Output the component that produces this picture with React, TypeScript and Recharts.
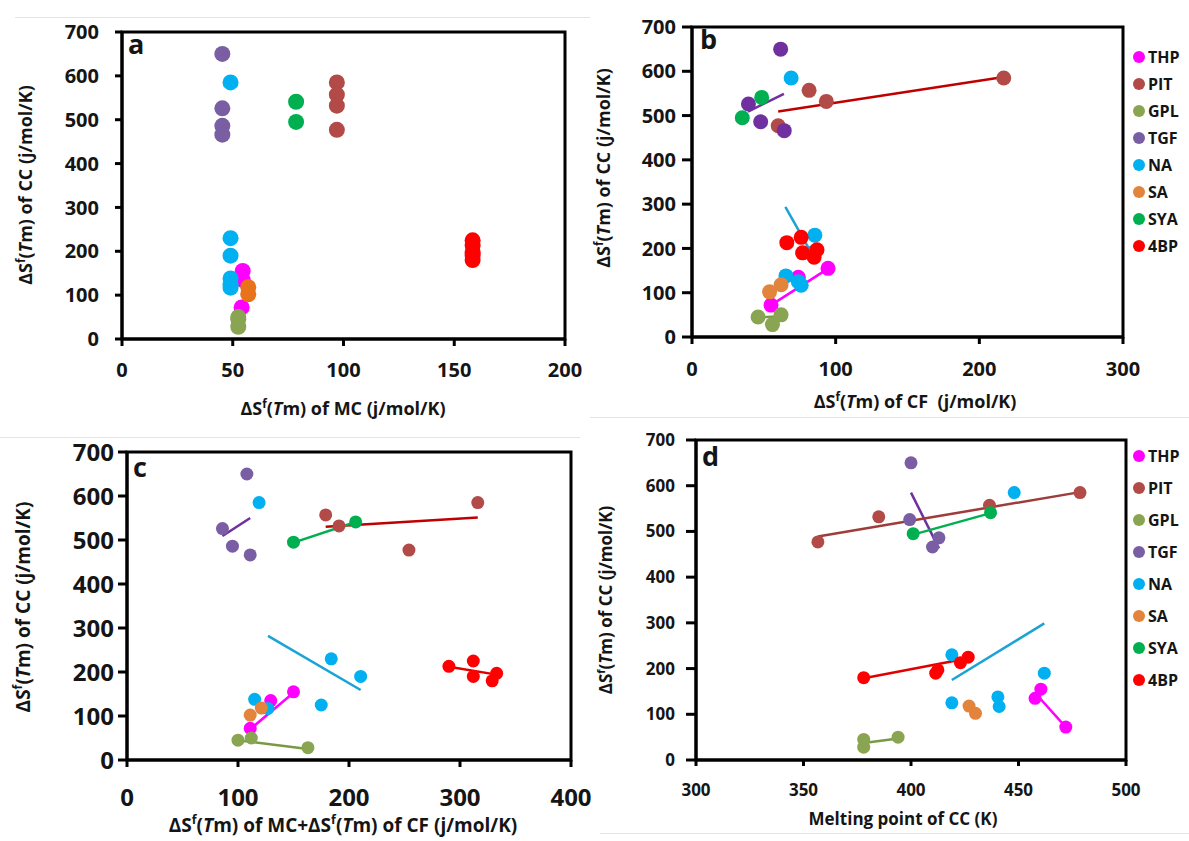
import React from "react";
import { Legend, ReferenceArea, ReferenceLine, Scatter, ScatterChart, XAxis, YAxis } from "recharts";

const FONT = "'Open Sans', Lato, 'Noto Sans', sans-serif";
const INK = "#151515";

const compounds = ["THP", "PIT", "GPL", "TGF", "NA", "SA", "SYA", "4BP"];

// ΔSf(Tm) of CC - the y value of each point, same in all four panels
const thpCC = [155, 135, 72];
const pitCC = [585, 557, 532, 477];
const gplCC = [50, 45, 28];
const tgfCC = [650, 526, 486, 466];
const naCC = [585, 230, 190, 138, 125, 117];
const saCC = [118, 102];
const syaCC = [541, 495];
const bpCC = [225, 213, 197, 190, 180];

// panel a: ΔSf(Tm) of MC
const thpMC = [54.5, 54.5, 54];
const pitMC = [97, 97, 97, 97];
const gplMC = [52.5, 52.5, 52.5];
const tgfMC = [45.3, 45.3, 45.3, 45.3];
const naMC = [49, 49, 49, 49, 49, 49];
const saMC = [57, 57];
const syaMC = [78.6, 78.6];
const bpMC = [158.3, 158.3, 158.3, 158.3, 158.3];

// panel b: ΔSf(Tm) of CF
const thpCF = [94.7, 74, 55];
const pitCF = [217, 81.5, 93.5, 60];
const gplCF = [62, 46, 56];
const tgfCF = [61.7, 39.3, 47.8, 64.2];
const naCF = [69, 85.5, 84, 65.4, 74, 76];
const saCF = [62, 54];
const syaCF = [48.5, 35];
const bpCF = [76, 66, 87, 77, 85];

// panel c: ΔSf(Tm) of MC + ΔSf(Tm) of CF
const thpSum = [150, 129.5, 111];
const pitSum = [316, 179, 191, 254];
const gplSum = [112, 100, 163];
const tgfSum = [108, 86, 95, 111];
const naSum = [119, 184, 210.5, 115, 175, 127];
const saSum = [121, 111];
const syaSum = [206, 150];
const bpSum = [312, 290, 333, 312, 329];

// panel d: melting point of CC (K)
const thpTm = [460.4, 457.7, 472];
const pitTm = [478.6, 436.5, 385, 356.7];
const gplTm = [394, 378, 378];
const tgfTm = [400, 399.4, 413, 410];
const naTm = [448, 419, 462, 440.4, 419, 441];
const saTm = [427, 430];
const syaTm = [437, 401];
const bpTm = [426.6, 423, 412.5, 411.5, 378];

// fitted lines drawn in the panels: [compound, x1, y1, x2, y2]
type Trend = [string, number, number, number, number];
const cfTrends: Trend[] = [
  ["TGF", 39, 509, 64, 549],
  ["PIT", 60, 509, 217, 587],
  ["NA", 65, 294, 86, 173],
  ["THP", 55, 72, 95, 155],
  ["GPL", 46, 44, 62, 47],
];
const sumTrends: Trend[] = [
  ["TGF", 86, 509, 111, 550],
  ["NA", 127, 282, 210.5, 159],
  ["PIT", 179, 530, 316, 551],
  ["SYA", 150, 494, 206, 541],
  ["4BP", 290, 212, 333, 194],
  ["THP", 111, 70, 150, 153],
  ["GPL", 100, 45, 163, 25],
];
const tmTrends: Trend[] = [
  ["TGF", 400, 585, 413, 463],
  ["PIT", 356.7, 489, 478.6, 586],
  ["SYA", 401, 493, 437, 540],
  ["NA", 419, 175, 462, 299],
  ["4BP", 378, 179, 426, 222],
  ["GPL", 378, 37, 394, 47],
  ["THP", 459, 140, 472, 72],
  ["SA", 427, 117, 430, 101],
];

const yTicks = [0, 100, 200, 300, 400, 500, 600, 700];

const colors: Record<string, string> = {
  THP: "#ff00ff",
  PIT: "#b24a48",
  GPL: "#8aa552",
  TGF: "#7a5ea3",
  NA: "#00b0f0",
  SA: "#e2843c",
  SYA: "#00b050",
  "4BP": "#ff0000",
};
const trendColors: Record<string, string> = {
  THP: "#ff00ff",
  PIT: "#c00000",
  GPL: "#7a9a40",
  TGF: "#7030a0",
  NA: "#1aa3d6",
  SA: "#e2843c",
  SYA: "#00b050",
  "4BP": "#e00000",
};

const ccValues = [thpCC, pitCC, gplCC, tgfCC, naCC, saCC, syaCC, bpCC];

type Seg = [string, "n" | "sup" | "i"];
const dSf = (rest: string): Seg[] => [
  ["ΔS", "n"],
  ["f", "sup"],
  ["(", "n"],
  ["T", "i"],
  ["m)" + rest, "n"],
];

function AxisTitle(props: any) {
  const { px, py, rotate, size, segs } = props;
  const shift = size * 0.4;
  let prevSup = false;
  return (
    <text
      x={px}
      y={py}
      textAnchor="middle"
      transform={rotate ? `rotate(-90, ${px}, ${py})` : undefined}
      fontFamily={FONT}
      fontWeight={700}
      fontSize={size}
      fill={INK}
      style={{ whiteSpace: "pre" }}
    >
      {segs.map(([t, k]: Seg, i: number) => {
        const sup = k === "sup";
        const dy = sup && !prevSup ? -shift : !sup && prevSup ? shift : 0;
        prevSup = sup;
        return (
          <tspan key={i} dy={dy || undefined} fontSize={sup ? size * 0.65 : undefined} fontStyle={k === "i" ? "italic" : undefined}>
            {t}
          </tspan>
        );
      })}
    </text>
  );
}

function PanelLetter(props: any) {
  const { viewBox, letter, dx, dy } = props;
  if (!viewBox) return null;
  return (
    <text x={viewBox.x + dx} y={viewBox.y + dy} fontFamily={FONT} fontWeight={700} fontSize={27} fill={INK}>
      {letter}
    </text>
  );
}

function LegendList(props: any) {
  const { payload, row } = props;
  const items = compounds.map((n) => (payload || []).find((p: any) => p.value === n)).filter(Boolean);
  return (
    <div style={{ fontFamily: FONT, fontWeight: 700, fontSize: 16, color: INK }}>
      {items.map((p: any) => (
        <div key={p.value} style={{ height: row, display: "flex", alignItems: "center" }}>
          <span style={{ width: 12, height: 12, borderRadius: 6, background: colors[p.value], marginRight: 3, display: "inline-block" }} />
          {p.value}
        </div>
      ))}
    </div>
  );
}

type PanelCfg = {
  letter: string;
  left: number;
  top: number;
  width: number;
  height: number;
  margin: { top: number; right: number; bottom: number; left: number };
  yAxisW: number;
  xAxisH: number;
  xDomain: [number, number];
  xTicks: number[];
  xValues: number[][];
  trends: Trend[];
  tickFont: number;
  yTickSize: number;
  yTickMargin: number;
  xTickSize: number;
  xTickMargin: number;
  r: number;
  xTitle: Seg[];
  xTitlePos: [number, number];
  yTitlePos: [number, number];
  titleSize: number;
  letterPos: [number, number];
  legendTop?: number;
  legendRow?: number;
  colorOverride?: Record<string, string>;
};

function Panel({ cfg }: { cfg: PanelCfg }) {
  const palette = { ...colors, ...(cfg.colorOverride || {}) };
  const axisStroke = { stroke: "#000", strokeWidth: 3 };
  const tick = { fill: INK, fontSize: cfg.tickFont, fontWeight: 700, fontFamily: FONT };
  return (
    <div style={{ position: "absolute", left: cfg.left, top: cfg.top }}>
      <ScatterChart width={cfg.width} height={cfg.height} margin={cfg.margin}>
        <XAxis
          type="number"
          dataKey="x"
          domain={cfg.xDomain}
          ticks={cfg.xTicks}
          interval={0}
          allowDataOverflow
          height={cfg.xAxisH}
          axisLine={axisStroke}
          tickLine={axisStroke}
          tickSize={cfg.xTickSize}
          tickMargin={cfg.xTickMargin}
          tick={tick}
          label={<AxisTitle px={cfg.xTitlePos[0]} py={cfg.xTitlePos[1]} size={cfg.titleSize} segs={cfg.xTitle} />}
        />
        <YAxis
          type="number"
          dataKey="y"
          domain={[0, 700]}
          ticks={yTicks}
          interval={0}
          allowDataOverflow
          width={cfg.yAxisW}
          axisLine={axisStroke}
          tickLine={axisStroke}
          tickSize={cfg.yTickSize}
          tickMargin={cfg.yTickMargin}
          tick={tick}
          label={
            <AxisTitle px={cfg.yTitlePos[0]} py={cfg.yTitlePos[1]} size={cfg.titleSize} rotate segs={dSf(" of CC (j/mol/K)")} />
          }
        />
        <ReferenceArea
          x1={cfg.xDomain[0]}
          x2={cfg.xDomain[1]}
          y1={0}
          y2={700}
          fill="none"
          fillOpacity={0}
          stroke="#000"
          strokeWidth={3}
          label={<PanelLetter letter={cfg.letter} dx={cfg.letterPos[0]} dy={cfg.letterPos[1]} />}
        />
        {compounds.map((name, i) => {
          const xs = cfg.xValues[i];
          const data = xs.map((x, j) => ({ x, y: ccValues[i][j] }));
          const fill = palette[name];
          return (
            <Scatter
              key={name}
              name={name}
              data={data}
              fill={fill}
              isAnimationActive={false}
              shape={(p: any) => <circle cx={p.cx} cy={p.cy} r={cfg.r} fill={fill} />}
            />
          );
        })}
        {cfg.trends.map(([name, x1, y1, x2, y2], i) => (
          <ReferenceLine
            key={i}
            segment={[
              { x: x1, y: y1 },
              { x: x2, y: y2 },
            ]}
            stroke={cfg.letter === "d" && name === "PIT" ? "#9e3c3a" : trendColors[name]}
            strokeWidth={2.5}
            ifOverflow="visible"
          />
        ))}
        {cfg.legendTop !== undefined && (
          <Legend
            layout="vertical"
            align="center"
            verticalAlign="middle"
            wrapperStyle={{ left: 543, top: cfg.legendTop, width: 60 }}
            content={(p: any) => <LegendList {...p} row={cfg.legendRow} />}
          />
        )}
      </ScatterChart>
    </div>
  );
}

const panels: PanelCfg[] = [
  {
    letter: "a",
    left: 0,
    top: 0,
    width: 590,
    height: 420,
    margin: { top: 32, right: 25, bottom: 0, left: 32 },
    yAxisW: 90,
    xAxisH: 81,
    xDomain: [0, 200],
    xTicks: [0, 50, 100, 150, 200],
    xValues: [thpMC, pitMC, gplMC, tgfMC, naMC, saMC, syaMC, bpMC],
    trends: [],
    tickFont: 20,
    yTickSize: 7,
    yTickMargin: 16,
    xTickSize: 7,
    xTickMargin: 17,
    r: 8,
    xTitle: dSf(" of MC (j/mol/K)"),
    xTitlePos: [343, 415],
    yTitlePos: [32, 185],
    titleSize: 18,
    letterPos: [6, 22],
    colorOverride: { SA: "#e8731a" },
  },
  {
    letter: "b",
    left: 590,
    top: 0,
    width: 599,
    height: 420,
    margin: { top: 27, right: 66, bottom: 0, left: 12 },
    yAxisW: 90,
    xAxisH: 83,
    xDomain: [0, 300],
    xTicks: [0, 100, 200, 300],
    xValues: [thpCF, pitCF, gplCF, tgfCF, naCF, saCF, syaCF, bpCF],
    trends: cfTrends,
    tickFont: 20,
    yTickSize: 10,
    yTickMargin: 6,
    xTickSize: 7,
    xTickMargin: 18,
    r: 7.5,
    xTitle: dSf(" of CF  (j/mol/K)"),
    xTitlePos: [325, 408],
    yTitlePos: [20, 168],
    titleSize: 18,
    letterPos: [8, 22],
    legendTop: 43,
    legendRow: 27,
    colorOverride: { TGF: "#7030a0" },
  },
  {
    letter: "c",
    left: 0,
    top: 420,
    width: 612,
    height: 421,
    margin: { top: 32, right: 41, bottom: 0, left: 32 },
    yAxisW: 95,
    xAxisH: 81,
    xDomain: [0, 400],
    xTicks: [0, 100, 200, 300, 400],
    xValues: [thpSum, pitSum, gplSum, tgfSum, naSum, saSum, syaSum, bpSum],
    trends: sumTrends,
    tickFont: 24,
    yTickSize: 9,
    yTickMargin: 4,
    xTickSize: 7,
    xTickMargin: 22,
    r: 6.5,
    xTitle: [...dSf(" of MC+"), ...dSf(" of CF (j/mol/K)")],
    xTitlePos: [343, 412],
    yTitlePos: [30, 187],
    titleSize: 19,
    letterPos: [6, 25],
  },
  {
    letter: "d",
    left: 590,
    top: 420,
    width: 599,
    height: 421,
    margin: { top: 20, right: 63, bottom: 0, left: 16 },
    yAxisW: 90,
    xAxisH: 81,
    xDomain: [300, 500],
    xTicks: [300, 350, 400, 450, 500],
    xValues: [thpTm, pitTm, gplTm, tgfTm, naTm, saTm, syaTm, bpTm],
    trends: tmTrends,
    tickFont: 17,
    yTickSize: 10,
    yTickMargin: 11,
    xTickSize: 6,
    xTickMargin: 18,
    r: 6.5,
    xTitle: [["Melting point of CC (K)", "n"]],
    xTitlePos: [313, 405],
    yTitlePos: [22, 180],
    titleSize: 17,
    letterPos: [6, 26],
    legendTop: 20,
    legendRow: 32,
  },
];

const rule = (left: number, top: number, width: number) => (
  <div style={{ position: "absolute", left, top, width, height: 1, background: "#e4e4e4" }} />
);

export default function App() {
  return (
    <div style={{ position: "absolute", left: 0, top: 0, width: 1189, height: 841, background: "#fff", overflow: "hidden" }}>
      {rule(15, 17, 575)}
      {rule(0, 437, 580)}
      {rule(590, 417, 599)}
      {rule(600, 833, 589)}
      {panels.map((p) => (
        <Panel key={p.letter} cfg={p} />
      ))}
    </div>
  );
}
